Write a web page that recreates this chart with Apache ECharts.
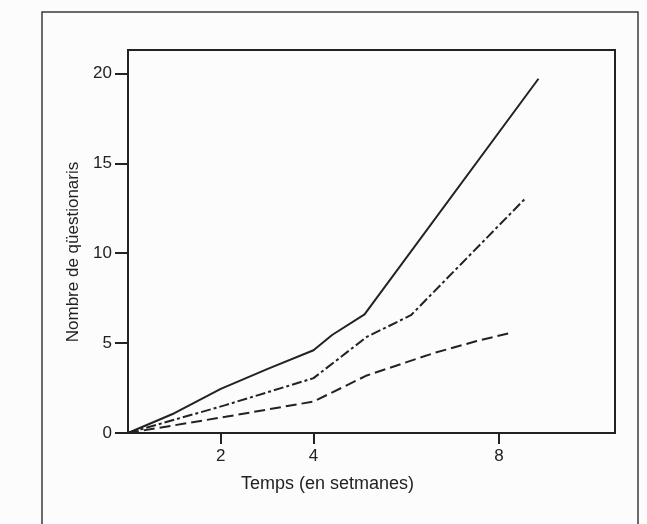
<!DOCTYPE html>
<html>
<head>
<meta charset="utf-8">
<script src="https://cdn.jsdelivr.net/npm/echarts@6/dist/echarts.min.js"></script>
<style>
html,body{margin:0;padding:0;background:#fcfcfc;}
#c{width:647px;height:524px;}
</style>
</head>
<body>
<div id="c"></div>
<script>
// Tick labels
const xTickValues = [2, 4, 8];
const yTickValues = [0, 5, 10, 15, 20];

// Series: weeks (x) and number of questionnaires (y)
const solidWeeks   = [0, 1, 2, 3, 4, 4.4, 5.1, 8.85];
const solidValues  = [0, 1.1, 2.45, 3.55, 4.6, 5.45, 6.6, 19.7];

const dashDotWeeks  = [0, 2.1, 4.0, 5.15, 6.1, 8.55];
const dashDotValues = [0, 1.55, 3.05, 5.35, 6.55, 13.0];

const dashedWeeks  = [0, 2.1, 4.0, 5.15, 6.6, 7.5, 8.3];
const dashedValues = [0, 0.9, 1.75, 3.2, 4.45, 5.1, 5.6];

const xName = 'Temps (en setmanes)';
const yName = 'Nombre de qüestionaris';

const ink = '#222222';
const font = 'Liberation Sans';

function pairs(xs, ys) { return xs.map((x, i) => [x, ys[i]]); }

const chart = echarts.init(document.getElementById('c'), null, {renderer: 'canvas'});
chart.setOption({
  animation: false,
  backgroundColor: '#fcfcfc',
  graphic: [{
    type: 'rect',
    shape: {x: 42, y: 12, width: 596, height: 540},
    style: {fill: 'none', stroke: '#3a3a3a', lineWidth: 1.5},
    silent: true,
    z: -1
  }],
  grid: {
    left: 128, top: 50, right: 32, bottom: 91,
    show: true, borderColor: ink, borderWidth: 2, backgroundColor: 'transparent'
  },
  xAxis: {
    type: 'value', min: 0, max: 10.5,
    name: xName, nameLocation: 'middle', nameGap: 42,
    nameTextStyle: {fontFamily: font, fontSize: 18, color: ink, padding: [0, 88, 0, 0]},
    axisLine: {show: true, lineStyle: {color: ink, width: 2}},
    axisTick: {show: true, length: 11, customValues: xTickValues, lineStyle: {color: ink, width: 2}},
    axisLabel: {customValues: xTickValues, margin: 15, fontFamily: font, fontSize: 17, color: ink},
    splitLine: {show: false}
  },
  yAxis: {
    type: 'value', min: 0, max: 21.3,
    name: yName, nameLocation: 'middle', nameGap: 30, nameRotate: 90,
    nameTextStyle: {fontFamily: font, fontSize: 17, color: ink, padding: [0, 21, 0, 0]},
    axisLine: {show: true, lineStyle: {color: ink, width: 2}},
    axisTick: {show: true, length: 13, customValues: yTickValues, lineStyle: {color: ink, width: 2}},
    axisLabel: {customValues: yTickValues, margin: 16, fontFamily: font, fontSize: 17, color: ink},
    splitLine: {show: false}
  },
  series: [
    {
      type: 'line', data: pairs(solidWeeks, solidValues), symbol: 'none',
      lineStyle: {color: ink, width: 2, type: 'solid'}
    },
    {
      type: 'line', data: pairs(dashDotWeeks, dashDotValues), symbol: 'none',
      lineStyle: {color: ink, width: 2, type: [10, 3, 3, 3]}
    },
    {
      type: 'line', data: pairs(dashedWeeks, dashedValues), symbol: 'none',
      lineStyle: {color: ink, width: 2, type: [11, 5]}
    }
  ]
});
</script>
</body>
</html>
